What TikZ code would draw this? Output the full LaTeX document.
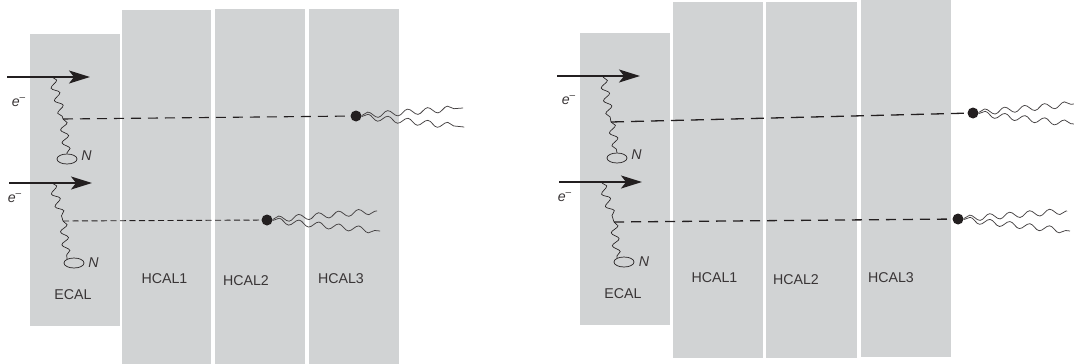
\documentclass[tikz,border=0pt]{standalone}
\usepackage{fontspec}
\setmainfont{Liberation Sans}
\usetikzlibrary{arrows.meta,decorations.pathmorphing,shapes.geometric}
\definecolor{calgray}{RGB}{209,211,212}
\definecolor{inkdark}{RGB}{35,31,32}
\tikzset{
  cal/.style={fill=calgray},
  beam/.style={line width=1.6pt,inkdark,-{Stealth[length=21pt,width=13pt,inset=5pt]}},
  photon/.style={inkdark,line width=.65pt,decorate,decoration={snake,segment length=13pt,amplitude=3.7pt,post length=.5pt}},
  jet/.style={inkdark!85,line width=.75pt,decorate,decoration={snake,segment length=20pt,amplitude=3pt,post length=.5pt}},
  track/.style={inkdark,line width=1.1pt,dash pattern=on 10pt off 7pt},
  fine/.style={inkdark,line width=.9pt,dash pattern=on 6pt off 3.5pt},
  long/.style={inkdark,line width=1.3pt,dash pattern=on 13pt off 7pt},
  mid/.style={inkdark,line width=1.3pt,dash pattern=on 10pt off 7pt},
  nucleus/.style={draw=inkdark,line width=.7pt,ellipse,inner sep=0pt,minimum width=20pt,minimum height=10pt},
  decay/.style={circle,fill=inkdark,inner sep=0pt,minimum size=11pt},
  lab/.style={font=\fontsize{14.2}{15}\selectfont,inkdark!90,inner sep=0pt},
}
\newcommand{\elec}{\textit{e}\raisebox{.42em}{\fontsize{10}{10}\selectfont\textendash}}
\begin{document}
\begin{tikzpicture}[x=1pt,y=-1pt]
  \useasboundingbox (0,0) rectangle (1074,364);
  % left detector
  \fill [cal] (30,34) rectangle (120,326);
  \fill [cal] (122,10) rectangle (211,364);
  \fill [cal] (215,9) rectangle (305,364);
  \fill [cal] (309,9) rectangle (399,364);
  \node [lab] (ecalL) at (73,295) {ECAL};
  \node [lab] (hcalLa) at (164.5,279) {HCAL1};
  \node [lab] (hcalLb) at (246,280.5) {HCAL2};
  \node [lab] (hcalLc) at (341,279) {HCAL3};
  % upper shower
  \coordinate (inLa) at (7,77);
  \coordinate (outLa) at (90,77);
  \coordinate (hitLa) at (52,77);
  \coordinate (forkLa) at (63,119);
  \draw [beam] (inLa)--(outLa);
  \node [lab] (eLa) at (18.5,102) {\elec};
  \node [nucleus] (nucLa) at (67,159) {};
  \node [lab] (labLa) at (86.5,156) {\textit{N}};
  \node [decay] (dotLa) at (356,116) {};
  \coordinate (endLa) at (463,108);
  \coordinate (endLb) at (464,127);
  \draw [photon] (hitLa)--(forkLa);
  \draw [photon] (forkLa)--(nucLa.north);
  \draw [track] (forkLa)--(dotLa);
  \draw [jet] (dotLa)--(endLa);
  \draw [jet] (dotLa)--(endLb);
  % lower shower
  \coordinate (inLb) at (9,183);
  \coordinate (outLb) at (92,183);
  \coordinate (hitLb) at (52,183);
  \coordinate (forkLb) at (63,221);
  \draw [beam] (inLb)--(outLb);
  \node [lab] (eLb) at (14.5,198) {\elec};
  \node [nucleus] (nucLb) at (74,263) {};
  \node [lab] (labLb) at (93.5,263) {\textit{N}};
  \node [decay] (dotLb) at (267,220) {};
  \coordinate (endLc) at (377,211);
  \coordinate (endLd) at (380,231);
  \draw [photon] (hitLb)--(forkLb);
  \draw [photon] (forkLb)--(nucLb.150);
  \draw [fine] (forkLb)--(dotLb);
  \draw [jet] (dotLb)--(endLc);
  \draw [jet] (dotLb)--(endLd);
  % right detector
  \fill [cal] (580,33) rectangle (670,325);
  \fill [cal] (673,2) rectangle (763,358);
  \fill [cal] (766,2) rectangle (857,358);
  \fill [cal] (861,0) rectangle (951,357);
  \node [lab] (ecalR) at (623,294) {ECAL};
  \node [lab] (hcalRa) at (714.5,278) {HCAL1};
  \node [lab] (hcalRb) at (796,279.5) {HCAL2};
  \node [lab] (hcalRc) at (891,278) {HCAL3};
  % upper shower
  \coordinate (inRa) at (557,76);
  \coordinate (outRa) at (640,76);
  \coordinate (hitRa) at (603,77);
  \coordinate (forkRa) at (611,122);
  \draw [beam] (inRa)--(outRa);
  \node [lab] (eRa) at (568.5,100) {\elec};
  \node [nucleus] (nucRa) at (617,158) {};
  \node [lab] (labRa) at (636.5,155) {\textit{N}};
  \node [decay] (dotRa) at (973,113) {};
  \coordinate (endRa) at (1074,104);
  \coordinate (endRb) at (1074,124);
  \draw [photon] (hitRa)--(forkRa);
  \draw [photon] (forkRa)--(nucRa.north);
  \draw [long] (forkRa)--(dotRa);
  \draw [jet] (dotRa)--(endRa);
  \draw [jet] (dotRa)--(endRb);
  % lower shower
  \coordinate (inRb) at (559,182);
  \coordinate (outRb) at (642,182);
  \coordinate (hitRb) at (602,183);
  \coordinate (forkRb) at (614,222);
  \draw [beam] (inRb)--(outRb);
  \node [lab] (eRb) at (564.5,197) {\elec};
  \node [nucleus] (nucRb) at (624,262) {};
  \node [lab] (labRb) at (644,262) {\textit{N}};
  \node [decay] (dotRb) at (958,219) {};
  \coordinate (endRc) at (1067,211);
  \coordinate (endRd) at (1070,231);
  \draw [photon] (hitRb)--(forkRb);
  \draw [photon] (forkRb)--(nucRb.150);
  \draw [mid] (forkRb)--(dotRb);
  \draw [jet] (dotRb)--(endRc);
  \draw [jet] (dotRb)--(endRd);
\end{tikzpicture}
\end{document}
